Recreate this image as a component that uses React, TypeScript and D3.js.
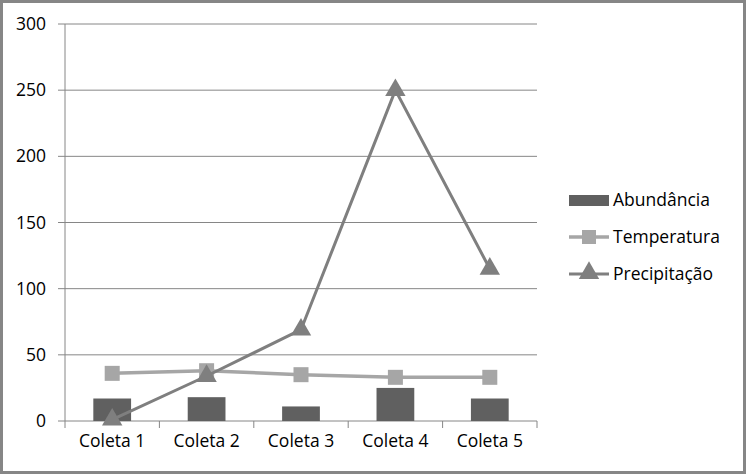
import React, { useEffect } from 'react';
import * as d3 from 'd3';

const categories = ['Coleta 1', 'Coleta 2', 'Coleta 3', 'Coleta 4', 'Coleta 5'];
const abundancia = [17, 18, 11, 25, 17];
const temperatura = [36, 38, 35, 33, 33];
const precipitacao = [1, 34, 69, 250, 115];
const yTicks = [0, 50, 100, 150, 200, 250, 300];

const width = 746;
const height = 474;
const pad = { left: 65, right: 209, top: 24, bottom: 53 };
const font = 'Open Sans, Noto Sans, sans-serif';

const App = () => {
  useEffect(() => {
    document.body.style.margin = '0';
  }, []);

  const x = d3
    .scaleBand<string>()
    .domain(categories)
    .range([pad.left, width - pad.right]);
  const y = d3
    .scaleLinear()
    .domain([0, 300])
    .range([height - pad.bottom, pad.top]);
  const cx = (c: string) => x(c)! + x.bandwidth() / 2;
  const barW = x.bandwidth() * 0.4;

  const line = d3
    .line<number>()
    .x((_, i) => cx(categories[i]))
    .y((d) => y(d));

  const tri = d3.symbol().type(d3.symbolTriangle).size(180);

  const legendX = 569;
  const legend = [
    { name: 'Abundância', y: 200 },
    { name: 'Temperatura', y: 237 },
    { name: 'Precipitação', y: 274 },
  ];

  return (
    <svg width={width} height={height} style={{ display: 'block', fontFamily: font }}>
      <rect x={1.5} y={1.5} width={width - 3} height={height - 3} fill="#fff" stroke="#868686" strokeWidth={3} />
      {yTicks.map((t) => (
        <g key={t}>
          <line x1={pad.left - 7} x2={width - pad.right} y1={y(t)} y2={y(t)} stroke="#868686" strokeWidth={1} />
          <text x={46} y={y(t)} dy="0.35em" textAnchor="end" fontSize={17.5} fill="#000">
            {t}
          </text>
        </g>
      ))}
      <line x1={pad.left} x2={pad.left} y1={pad.top} y2={y(0)} stroke="#868686" />
      {[...categories.map((c) => x(c)!), width - pad.right].map((tx, i) => (
        <line key={i} x1={tx} x2={tx} y1={y(0)} y2={y(0) + 7} stroke="#868686" />
      ))}
      {categories.map((c) => (
        <text key={c} x={cx(c)} y={y(0) + 26} textAnchor="middle" fontSize={17.5} fill="#000">
          {c}
        </text>
      ))}
      {abundancia.map((v, i) => (
        <rect key={i} x={cx(categories[i]) - barW / 2} y={y(v)} width={barW} height={y(0) - y(v)} fill="#606060" />
      ))}
      <path d={line(temperatura)!} fill="none" stroke="#a6a6a6" strokeWidth={3.5} />
      {temperatura.map((v, i) => (
        <rect key={i} x={cx(categories[i]) - 7.5} y={y(v) - 7.5} width={15} height={15} fill="#a6a6a6" />
      ))}
      <path d={line(precipitacao)!} fill="none" stroke="#7f7f7f" strokeWidth={3} />
      {precipitacao.map((v, i) => (
        <path key={i} d={tri()!} transform={`translate(${cx(categories[i])},${y(v)})`} fill="#7f7f7f" />
      ))}
      {legend.map((l, i) => (
        <g key={l.name}>
          {i === 0 && <rect x={legendX} y={l.y - 5} width={40} height={11} fill="#606060" />}
          {i === 1 && (
            <g>
              <line x1={legendX} x2={legendX + 40} y1={l.y} y2={l.y} stroke="#a6a6a6" strokeWidth={3.5} />
              <rect x={legendX + 13} y={l.y - 7} width={14} height={14} fill="#a6a6a6" />
            </g>
          )}
          {i === 2 && (
            <g>
              <line x1={legendX} x2={legendX + 40} y1={l.y} y2={l.y} stroke="#7f7f7f" strokeWidth={3} />
              <path d={tri()!} transform={`translate(${legendX + 20},${l.y - 1})`} fill="#7f7f7f" />
            </g>
          )}
          <text x={legendX + 44} y={l.y} dy="0.35em" fontSize={17.5} fill="#000">
            {l.name}
          </text>
        </g>
      ))}
    </svg>
  );
};

export default App;
